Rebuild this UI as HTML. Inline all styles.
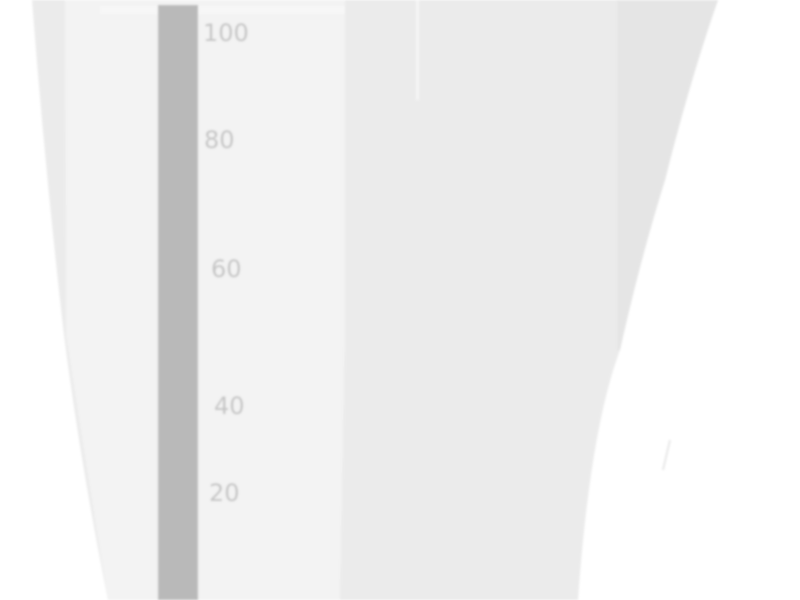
<!DOCTYPE html>
<html><head><meta charset="utf-8"><style>
html,body{margin:0;padding:0;background:#fff;width:800px;height:600px;overflow:hidden}
svg{display:block}
text{font-family:"DejaVu Sans","Liberation Sans",sans-serif;font-size:24px;fill:#c4c4c4}
</style></head><body>
<svg width="800" height="600" viewBox="0 0 800 600">
  <defs><filter id="soft" x="-5%" y="-5%" width="110%" height="110%"><feGaussianBlur stdDeviation="1"/></filter></defs>
  <g filter="url(#soft)">
  <path d="M32 0 L718 0 Q690 80 665 180 Q640 260 620 350 Q590 430 578 600 L108 600 Q80 460 64 335 Q45 170 32 0 Z" fill="#ebebeb"/>
  <path d="M617 0 L718 0 Q690 80 665 180 Q640 260 620 350 L617 350 Z" fill="#e5e5e5"/>
  <path d="M65 0 L345 0 L345 335 L340 600 L108 600 Q85 460 66 335 Z" fill="#f3f3f3"/>
  <rect x="100" y="6" width="245" height="8" fill="#f7f7f7"/>
  <rect x="416" y="0" width="3" height="100" fill="#f5f5f5"/>
  <rect x="158" y="5" width="40" height="595" fill="#b9b9b9"/>
  <text x="203" y="41">100</text>
  <text x="204" y="148">80</text>
  <text x="211" y="277">60</text>
  <text x="214" y="414">40</text>
  <text x="209" y="501">20</text>
  <line x1="670" y1="440" x2="663" y2="470" stroke="#e8e8e8" stroke-width="2"/>
  </g>
</svg>
</body></html>
